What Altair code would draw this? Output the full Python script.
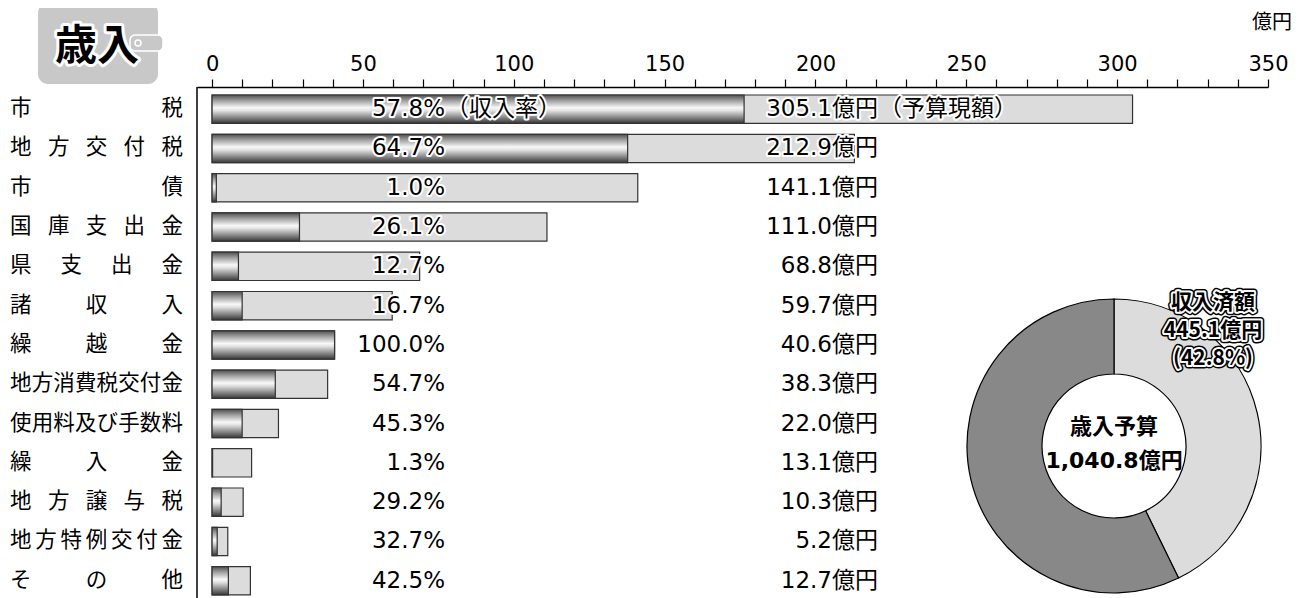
import altair as alt
import pandas as pd

FONT = "Noto Sans CJK JP"
NUM_FONT = "DejaVu Sans, Noto Sans CJK JP"

# ---------------- data ----------------
categories = ["市税", "地方交付税", "市債", "国庫支出金", "県支出金", "諸収入", "繰越金",
              "地方消費税交付金", "使用料及び手数料", "繰入金", "地方譲与税", "地方特例交付金", "その他"]
budget = [305.1, 212.9, 141.1, 111.0, 68.8, 59.7, 40.6, 38.3, 22.0, 13.1, 10.3, 5.2, 12.7]
rate = [57.8, 64.7, 1.0, 26.1, 12.7, 16.7, 100.0, 54.7, 45.3, 1.3, 29.2, 32.7, 42.5]
rate_suffix = "（収入率）"
budget_suffix = "（予算現額）"

total_budget = 1040.8
total_received = 445.1
total_rate = 42.8
donut_parts = ["収入済額", "未収入額"]

title_text = "歳入"
unit_text = "億円"
center_lines = ["歳入予算", f"{total_budget:,.1f}億円"]
donut_label = ["収入済額", f"{total_received:.1f}億円", f"({total_rate:.1f}%)"]
tick_values = list(range(0, 351, 10))

# ---------------- tables ----------------
df = pd.DataFrame({"category": categories, "budget": budget, "rate": rate})
df["rate_label"] = [f"{v:.1f}%" for v in rate]
df["budget_label"] = [f"{v:.1f}億円" for v in budget]
first = df.iloc[:1].copy()
first["rs"] = rate_suffix
first["bs"] = budget_suffix

rows = []
for cat in categories:
    n = len(cat)
    for i, ch in enumerate(cat):
        rows.append({"category": cat, "char": ch, "frac": i / (n - 1)})
chars_df = pd.DataFrame(rows)

donut_df = pd.DataFrame({"part": donut_parts,
                         "amount": [total_received, total_budget - total_received],
                         "ord": [0, 1]})
one = pd.DataFrame({"k": [0]})

# ---------------- layout ----------------
W, H = 1071, 511
X0, Y0 = 197, 87          # page position of plot origin
def px(v): return v - X0
def py(v): return v - Y0

ycat = alt.Y("category:N", sort=categories,
             scale=alt.Scale(range=[8, 507.9], paddingInner=0.28, paddingOuter=0),
             axis=None)
xaxis = alt.Axis(orient="top", values=tick_values,
                 labelExpr="datum.value % 50 === 0 ? datum.label : ''",
                 tickSize=8, tickColor="black", tickWidth=1.2,
                 domainColor="black", domainWidth=1.5,
                 labelFont="DejaVu Sans", labelFontSize=21, labelColor="black",
                 labelPadding=5, labelOverlap=False, labelFlush=False,
                 grid=False, title=None)
xscale = alt.Scale(domain=[-5, 350], nice=False)

grad = alt.LinearGradient(
    gradient="linear",
    stops=[alt.GradientStop(color="#505050", offset=0),
           alt.GradientStop(color="#a0a0a0", offset=0.2),
           alt.GradientStop(color="#f8f8f8", offset=0.45),
           alt.GradientStop(color="#e2e2e2", offset=0.55),
           alt.GradientStop(color="#858585", offset=0.8),
           alt.GradientStop(color="#383838", offset=1)],
    x1=0, x2=0, y1=0, y2=1)

layers = []

# frame left line
layers.append(alt.Chart(one).mark_rule(color="black", strokeWidth=1.5).encode(
    x=alt.value(0), y=alt.value(0), y2=alt.value(H)))

# bars
layers.append(alt.Chart(df).mark_bar(fill="#dcdcdc", stroke="#333333", strokeWidth=1.2).encode(
    x=alt.X("budget:Q", scale=xscale, axis=xaxis, stack=None), x2=alt.datum(0), y=ycat))
layers.append(alt.Chart(df).transform_calculate(received="datum.budget * datum.rate / 100")
              .mark_bar(fill=grad, stroke="#333333", strokeWidth=1.2).encode(
    x=alt.X("received:Q", scale=xscale, axis=xaxis, stack=None), x2=alt.datum(0), y=ycat))


def halo_text(data, field, xv, align, size, font=NUM_FONT, hw=4):
    base = alt.Chart(data).encode(x=alt.value(xv), y=ycat, text=f"{field}:N")
    h = base.mark_text(align=align, baseline="middle", font=font, fontSize=size,
                       fill="white", stroke="white", strokeWidth=hw, strokeJoin="round")
    t = base.mark_text(align=align, baseline="middle", font=font, fontSize=size,
                       fill="black")
    return [h, t]


layers += halo_text(df, "rate_label", px(445), "right", 23)
layers += halo_text(first, "rs", px(446), "left", 23, font=FONT)
layers += halo_text(df, "budget_label", px(878), "right", 23)
layers += halo_text(first, "bs", px(879), "left", 23, font=FONT)

# donut
layers.append(alt.Chart(donut_df).mark_arc(stroke="black", strokeWidth=1.2,
                                           outerRadius=147, innerRadius=72).encode(
    theta=alt.Theta("amount:Q", stack=True),
    color=alt.Color("part:N", scale=alt.Scale(domain=donut_parts, range=["#dcdcdc", "#888888"]),
                    legend=None),
    order=alt.Order("ord:Q"),
    x=alt.value(px(1114)), y=alt.value(py(446))))

cdf = pd.DataFrame({"t": ["\n".join(center_lines)]})
layers.append(alt.Chart(cdf).mark_text(font=NUM_FONT, fontSize=22, fontWeight="bold", fill="black",
                                       lineBreak="\n", lineHeight=34, baseline="middle").encode(
    text="t:N", x=alt.value(px(1114)), y=alt.value(py(427))))

ldf = pd.DataFrame({"t": ["\n".join(donut_label)]})
for st, sw, fl in [("black", 7, "black"), ("white", 4, "white"), (None, 0, "black")]:
    kw = dict(font=FONT, fontSize=21, fontWeight="bold", fill=fl, lineBreak="\n",
              lineHeight=28, baseline="middle", strokeJoin="round")
    if st:
        kw.update(stroke=st, strokeWidth=sw)
    layers.append(alt.Chart(ldf).mark_text(**kw).encode(
        text="t:N", x=alt.value(px(1213)), y=alt.value(py(303))))

# badge
layers.append(alt.Chart(one).mark_rect(fill="#d8d8d8", stroke="#bbbbbb").encode(
    x=alt.value(px(90)), x2=alt.value(px(140)), y=alt.value(py(-4)), y2=alt.value(py(4))))
layers.append(alt.Chart(one).mark_rect(fill="#c8c8c8", cornerRadius=10).encode(
    x=alt.value(px(38)), x2=alt.value(px(158)), y=alt.value(py(3)), y2=alt.value(py(84))))
layers.append(alt.Chart(one).mark_rect(fill="#c8c8c8", stroke="white", strokeWidth=1.5,
                                       cornerRadius=5).encode(
    x=alt.value(px(130)), x2=alt.value(px(163)), y=alt.value(py(35)), y2=alt.value(py(51))))
layers.append(alt.Chart(one).mark_point(shape="circle", size=36, stroke="white",
                                        strokeWidth=1.5, filled=False, opacity=1).encode(
    x=alt.value(px(138)), y=alt.value(py(43))))
tdf = pd.DataFrame({"t": [title_text]})
layers.append(alt.Chart(tdf).mark_text(font=FONT, fontSize=42, fontWeight="bold", fill="white",
                                       stroke="white", strokeWidth=6, strokeJoin="round").encode(
    text="t:N", x=alt.value(px(97)), y=alt.value(py(47))))
layers.append(alt.Chart(tdf).mark_text(font=FONT, fontSize=42, fontWeight="bold", fill="black").encode(
    text="t:N", x=alt.value(px(97)), y=alt.value(py(47))))

udf = pd.DataFrame({"t": [unit_text]})
layers.append(alt.Chart(udf).mark_text(font=FONT, fontSize=20, fill="black", align="right",
                                       baseline="middle").encode(
    text="t:N", x=alt.value(px(1292)), y=alt.value(py(23))))

main = alt.layer(*layers)

charl = alt.Chart(chars_df).mark_text(font=FONT, fontSize=21.5, fill="black",
                                      baseline="middle", align="center").encode(
    x=alt.X("frac:Q", scale=alt.Scale(domain=[0, 1], range=[px(20.8), px(172.2)]), axis=None),
    y=ycat, text="char:N")

chart = alt.layer(main, charl).resolve_scale(x="independent").properties(
    width=W, height=H,
    padding={"left": X0 - 8, "top": Y0 - 8, "right": 37, "bottom": 0},
    autosize=alt.AutoSizeParams(type="none"),
    background="white",
).configure_view(stroke=None)

chart.save("out.html", embed_options={"renderer": "svg", "actions": False})
